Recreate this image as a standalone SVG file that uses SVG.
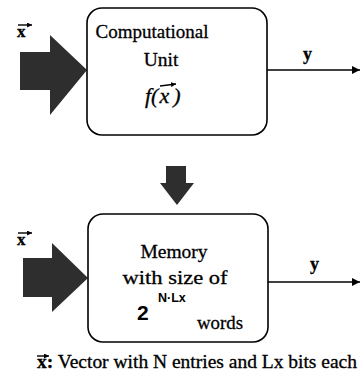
<svg xmlns="http://www.w3.org/2000/svg" width="361" height="377" viewBox="0 0 361 377">
<style>
.box{fill:#fff;stroke:#000;stroke-width:1.6}
.big{fill:#2e2e2e}
.t{font-family:"Liberation Serif","Times New Roman",serif;fill:#000;stroke:#000;stroke-width:0.3}
.s{font-family:"Liberation Sans",Arial,sans-serif;font-weight:bold;fill:#000}
.ln{stroke:#000;stroke-width:1.4;fill:none}
</style>
<defs>
<marker id="ah" viewBox="0 0 10 10" refX="10" refY="5" markerWidth="8" markerHeight="8" markerUnits="userSpaceOnUse" orient="auto">
<path d="M0,0 L10,5 L0,10 z" fill="#000"/>
</marker>
<marker id="va" viewBox="0 0 10 10" refX="10" refY="5" markerWidth="5" markerHeight="5" markerUnits="userSpaceOnUse" orient="auto">
<path d="M0,0 L10,5 L0,10 z" fill="#000"/>
</marker>
</defs>
<rect width="361" height="377" fill="#fff"/>
<g id="connectors">
<path class="big" d="M20,52 H50 V35 L87,70 L50,115 V90 H20 Z"/>
<path class="big" d="M23,258 H52 V243 L88,278 L52,312 V297 H23 Z"/>
<path class="big" d="M166,166 H186 V183 H194 L177,205 L160,183 H166 Z"/>
<line class="ln" x1="267" y1="70" x2="360" y2="70" marker-end="url(#ah)"/>
<line class="ln" x1="268" y1="282" x2="360" y2="282" marker-end="url(#ah)"/>
<text class="t" x="303" y="60" font-size="18" font-weight="bold">y</text>
<text class="t" x="310" y="270" font-size="18" font-weight="bold">y</text>
<text class="t" x="17" y="37" font-size="17" font-weight="bold">x</text>
<line class="ln" x1="18" y1="25" x2="32" y2="25" stroke-width="1" marker-end="url(#va)"/>
<text class="t" x="17" y="245" font-size="17" font-weight="bold">x</text>
<line class="ln" x1="18" y1="233" x2="32" y2="233" stroke-width="1" marker-end="url(#va)"/>
</g>
<g id="computational-unit">
<rect class="box" x="87" y="8" width="180" height="127" rx="15"/>
<text class="t" x="152" y="38" font-size="19.5" text-anchor="middle" textLength="113" lengthAdjust="spacingAndGlyphs">Computational</text>
<text class="t" x="161" y="66" font-size="19.5" text-anchor="middle">Unit</text>
<text class="t" x="145" y="103" font-size="22" font-style="italic">f(<tspan dx="1">x</tspan><tspan dx="4">)</tspan></text>
<line class="ln" x1="160" y1="86" x2="176" y2="84" stroke-width="1.1" marker-end="url(#va)"/>
</g>
<g id="memory">
<rect class="box" x="88" y="214" width="180" height="128" rx="15"/>
<text class="t" x="174" y="258" font-size="19.5" text-anchor="middle">Memory</text>
<text class="t" x="175" y="284" font-size="19.5" text-anchor="middle" textLength="105" lengthAdjust="spacingAndGlyphs">with size of</text>
<text class="s" x="137" y="320" font-size="21">2</text>
<text class="s" x="158" y="302" font-size="12.5">N·Lx</text>
<text class="t" x="197" y="329" font-size="19.5" textLength="46" lengthAdjust="spacingAndGlyphs">words</text>
</g>
<g id="caption">
<text class="t" x="37" y="368" font-size="18" textLength="320" lengthAdjust="spacingAndGlyphs"><tspan font-weight="bold">x:</tspan> Vector with N entries and Lx bits each</text>
<line class="ln" x1="37" y1="356" x2="49" y2="356" stroke-width="1" marker-end="url(#va)"/>
</g>
</svg>
